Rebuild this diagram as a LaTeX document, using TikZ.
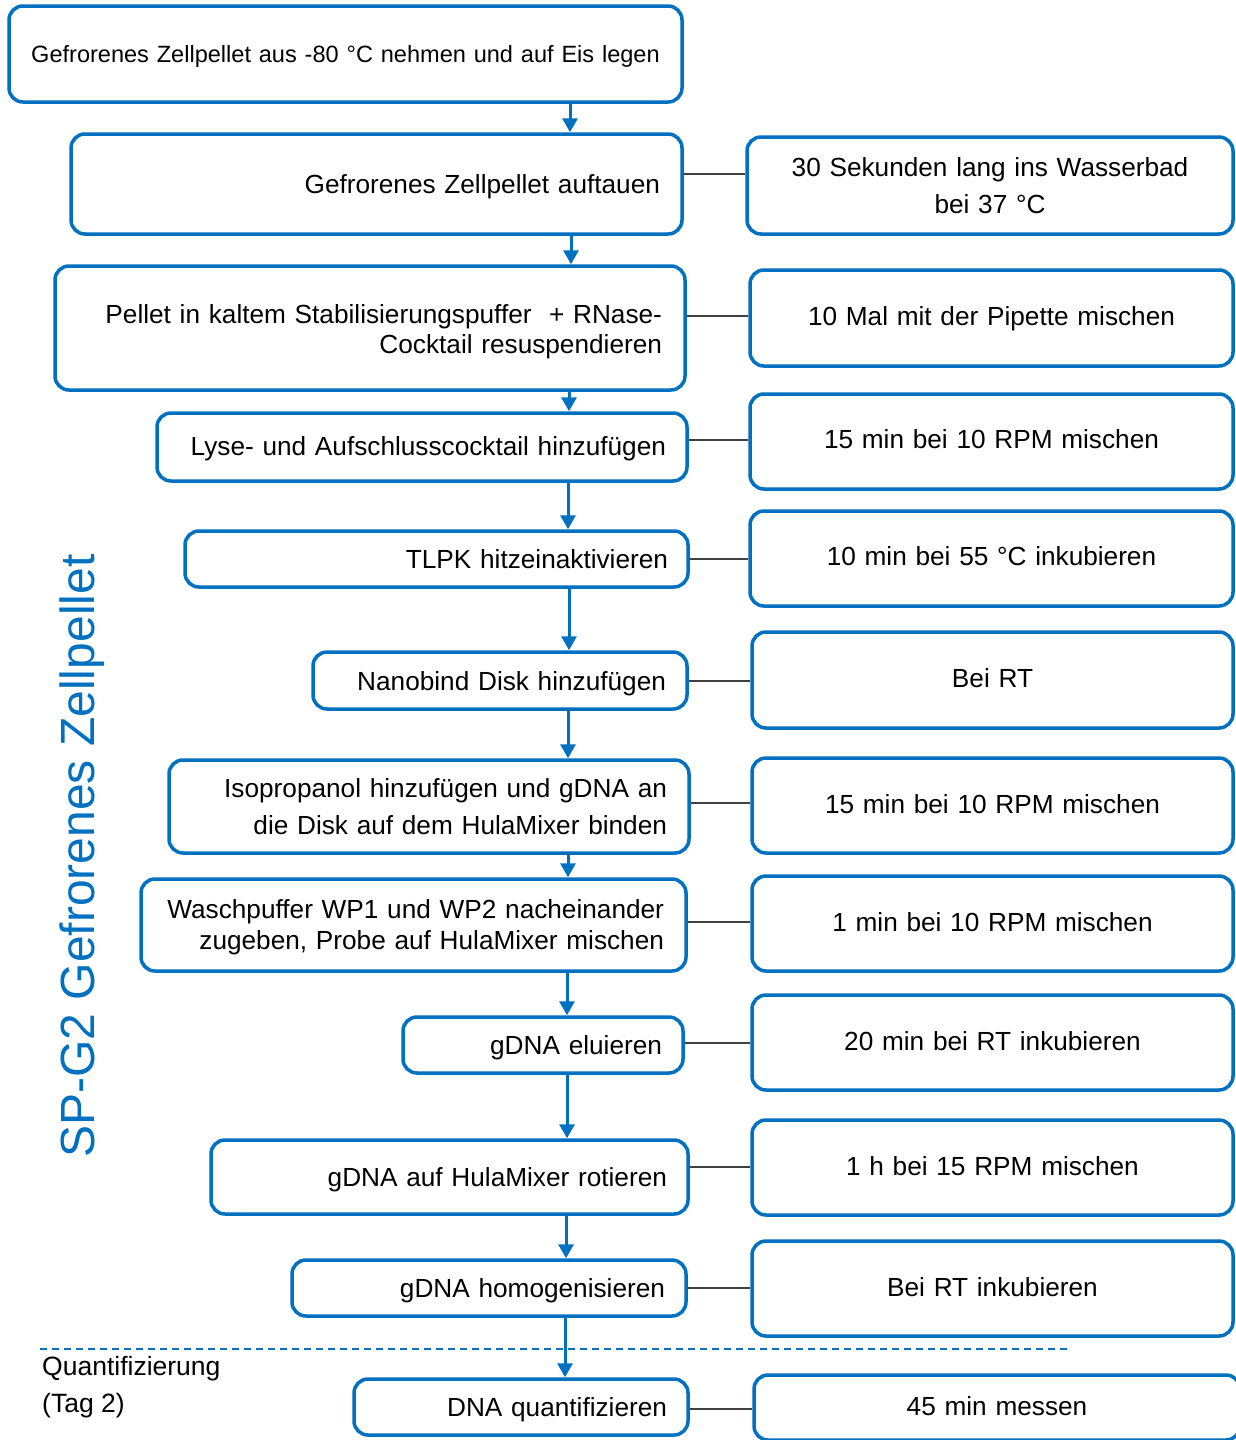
\documentclass[tikz,border=0pt]{standalone}
\usepackage{fontspec}
\setmainfont{Liberation Sans}
\usetikzlibrary{arrows.meta}
\definecolor{myblue}{RGB}{0,112,192}
\definecolor{conngray}{RGB}{64,64,64}
\newcommand\fsmain{\fontsize{26.2}{30}\selectfont}
\tikzset{
  stepbox/.style={draw=myblue, line width=3.5pt, rounded corners=14pt, inner ysep=0pt, text=black, font=\fsmain},
  arr/.style={draw=myblue, line width=3pt, -{Triangle[width=15pt,length=14pt]}},
  conn/.style={draw=conngray, line width=2pt},
  dashline/.style={draw=myblue, line width=2pt, dash pattern=on 7pt off 5pt},
}
% #1 options, #2 name, #3 left, #4 top, #5 right, #6 bottom, #7 pad, #8 text
\newcommand\LBox[8][]{%
  \pgfmathsetmacro\myW{#5-#3}%
  \pgfmathsetmacro\myH{#6-#4}%
  \pgfmathsetmacro\myTW{#5-#3-2*#7}%
  \pgfmathsetmacro\myX{(#3+#5)/2}%
  \pgfmathsetmacro\myY{(#4+#6)/2}%
  \node[stepbox, minimum width=\myW pt, minimum height=\myH pt, text width=\myTW pt, inner xsep=#7pt, align=right, text depth=0pt, #1] (#2) at (\myX,\myY) {#8};}
\newcommand\RBox[7][]{%
  \pgfmathsetmacro\myW{#5-#3}%
  \pgfmathsetmacro\myH{#6-#4}%
  \pgfmathsetmacro\myTW{#5-#3-20}%
  \pgfmathsetmacro\myX{(#3+#5)/2}%
  \pgfmathsetmacro\myY{(#4+#6)/2}%
  \node[stepbox, minimum width=\myW pt, minimum height=\myH pt, text width=\myTW pt, inner xsep=10pt, align=center, text depth=4pt, #1] (#2) at (\myX,\myY) {#7};}
\begin{document}
\begin{tikzpicture}[x=1pt, y=-1pt]
\useasboundingbox[fill=white] (0,0) rectangle (1235,1440);

% left column
\LBox[align=center, font=\fontsize{23.55}{28}\selectfont]{b1}{9}{6}{682}{102}{10}{Gefrorenes Zellpellet aus -80 °C nehmen und auf Eis legen}
\LBox{b2}{71}{134}{682}{234}{22}{Gefrorenes Zellpellet auftauen}
\LBox[text depth=28pt]{b3}{55}{266}{685}{390}{23}{Pellet in kaltem Stabilisierungspuffer~ + RNase-\\Cocktail resuspendieren}
\LBox[text depth=2pt]{b4}{157}{413}{687}{481}{21}{Lyse- und Aufschlusscocktail hinzufügen}
\LBox{b5}{185}{531}{688}{587}{20}{TLPK hitzeinaktivieren}
\LBox{b6}{313}{652}{687}{709}{21}{Nanobind Disk hinzufügen}
\LBox[font=\fontsize{26.2}{37}\selectfont, text depth=37pt]{b7}{169}{760}{689}{853}{22}{Isopropanol hinzufügen und gDNA an\\die Disk auf dem HulaMixer binden}
\LBox[font=\fontsize{26.2}{31}\selectfont, text depth=32.5pt]{b8}{141}{879}{686}{971}{22}{Waschpuffer WP1 und WP2 nacheinander\\zugeben, Probe auf HulaMixer mischen}
\LBox{b9}{403}{1017}{683}{1073}{21}{gDNA eluieren}
\LBox{b10}{211}{1140}{688}{1214}{21}{gDNA auf HulaMixer rotieren}
\LBox{b11}{292}{1260}{686}{1316}{21}{gDNA homogenisieren}
\LBox{b12}{354}{1379}{688}{1435}{21}{DNA quantifizieren}

% right column
\RBox[font=\fontsize{26.2}{37}\selectfont, text depth=37pt]{r2}{747}{137}{1233}{234}{30 Sekunden lang ins Wasserbad\\bei 37 °C}
\RBox{r3}{750}{270}{1233}{366}{10 Mal mit der Pipette mischen}
\RBox{r4}{750}{394}{1233}{489}{15 min bei 10 RPM mischen}
\RBox{r5}{750}{511}{1233}{606}{10 min bei 55 °C inkubieren}
\RBox{r6}{752}{632}{1233}{728}{Bei RT}
\RBox{r7}{752}{758}{1233}{853}{15 min bei 10 RPM mischen}
\RBox{r8}{752}{876}{1233}{971}{1 min bei 10 RPM mischen}
\RBox{r9}{752}{995}{1233}{1090}{20 min bei RT inkubieren}
\RBox{r10}{752}{1120}{1233}{1215}{1 h bei 15 RPM mischen}
\RBox{r11}{752}{1241}{1233}{1336}{Bei RT inkubieren}
\RBox{r12}{754}{1375}{1240}{1440}{45 min messen}

% dashed separator
\coordinate (dl) at (40,1349);
\coordinate (dr) at (1068,1349);
\draw[dashline] (dl) -- (dr);

% arrows
\draw[arr] (b1.south -| 570,0) -- (b2.north -| 570,0);
\draw[arr] (b2.south -| 571,0) -- (b3.north -| 571,0);
\draw[arr] (b3.south -| 569,0) -- (b4.north -| 569,0);
\draw[arr] (b4.south -| 568,0) -- (b5.north -| 568,0);
\draw[arr] (b5.south -| 569,0) -- (b6.north -| 569,0);
\draw[arr] (b6.south -| 568,0) -- (b7.north -| 568,0);
\draw[arr] (b7.south -| 568,0) -- (b8.north -| 568,0);
\draw[arr] (b8.south -| 567,0) -- (b9.north -| 567,0);
\draw[arr] (b9.south -| 567,0) -- (b10.north -| 567,0);
\draw[arr] (b10.south -| 566,0) -- (b11.north -| 566,0);
\draw[arr] (b11.south -| 565,0) -- (b12.north -| 565,0);

% connectors
\draw[conn] (b2.east |- 0,174) -- (r2.west |- 0,174);
\draw[conn] (b3.east |- 0,316) -- (r3.west |- 0,316);
\draw[conn] (b4.east |- 0,440) -- (r4.west |- 0,440);
\draw[conn] (b5.east |- 0,559) -- (r5.west |- 0,559);
\draw[conn] (b6.east |- 0,681) -- (r6.west |- 0,681);
\draw[conn] (b7.east |- 0,803) -- (r7.west |- 0,803);
\draw[conn] (b8.east |- 0,922) -- (r8.west |- 0,922);
\draw[conn] (b9.east |- 0,1043) -- (r9.west |- 0,1043);
\draw[conn] (b10.east |- 0,1167) -- (r10.west |- 0,1167);
\draw[conn] (b11.east |- 0,1288) -- (r11.west |- 0,1288);
\draw[conn] (b12.east |- 0,1409) -- (r12.west |- 0,1409);

% side label
\node[rotate=90, text=myblue, inner sep=0pt, font=\fontsize{48}{48}\selectfont] (side) at (82,856) {SP-G2 Gefrorenes Zellpellet};

% day label
\node[anchor=base west, inner sep=0pt, font=\fontsize{26.5}{30}\selectfont] (q1) at (42,1375) {Quantifizierung};
\node[anchor=base west, inner sep=0pt, font=\fontsize{26.5}{30}\selectfont] (q2) at (42,1412) {(Tag 2)};
\end{tikzpicture}
\end{document}
